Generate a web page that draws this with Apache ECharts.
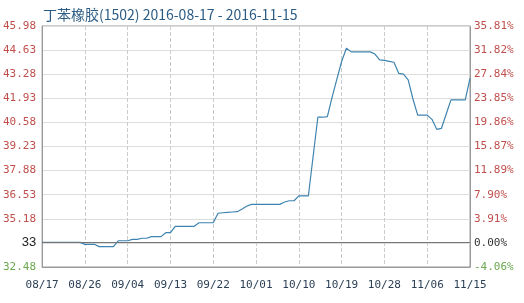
<!DOCTYPE html>
<html><head><meta charset="utf-8">
<script src="https://cdn.jsdelivr.net/npm/echarts@6/dist/echarts.min.js"></script>
<style>html,body{margin:0;padding:0;background:#fff}#c{width:524px;height:303px}</style>
</head><body><div id="c"></div>
<script>
var titleText = '丁苯橡胶(1502) 2016-08-17 - 2016-11-15';
var startDate = '2016-08-17';
var dayCount = 91;
var prices = [
  33.86,33.86,33.86,33.86,33.86,33.86,33.86,33.86,33.86,
  33.75,33.75,33.75,
  33.62,33.62,33.62,33.62,
  33.95,33.95,33.95,
  34.03,34.03,
  34.09,34.09,
  34.18,34.18,34.18,
  34.40,34.40,
  34.76,34.76,34.76,34.76,34.76,
  34.96,34.96,34.96,34.96,
  35.49,35.52,35.54,35.56,35.58,35.72,35.88,
  35.99,35.99,35.99,35.99,35.99,35.99,35.99,
  36.12,36.19,36.19,
  36.46,36.46,36.46,
  38.67,
  40.87,40.87,40.90,
  42.00,43.00,43.99,44.73,
  44.53,44.53,44.53,44.53,44.53,
  44.41,44.08,44.05,44.00,
  43.95,43.33,43.28,
  42.96,41.89,
  40.99,40.99,40.99,
  40.75,40.19,40.25,
  41.05,
  41.84,41.84,41.84,41.84,
  43.05
];
var leftLabels = ['32.48','33','35.18','36.53','37.88','39.23','40.58','41.93','43.28','44.63','45.98'];
var rightLabels = ['-4.06%','0.00%','3.91%','7.90%','11.89%','15.87%','19.86%','23.85%','27.84%','31.82%','35.81%'];
var axisMin = 32.48, axisMax = 45.98, axisStep = 1.35;

var categories = [];
(function(){
  var d0 = new Date(startDate + 'T00:00:00Z');
  for (var i = 0; i < dayCount; i++) {
    var d = new Date(d0.getTime() + i * 86400000);
    var m = d.getUTCMonth() + 1, dd = d.getUTCDate();
    categories.push((m < 10 ? '0' : '') + m + '/' + (dd < 10 ? '0' : '') + dd);
  }
})();
var base = prices[0];
function idx(v){ return Math.round((v - axisMin) / axisStep); }
var mono = '"DejaVu Sans Mono", "Liberation Mono", monospace';

var chart = echarts.init(document.getElementById('c'), null, {renderer:'canvas'});
chart.setOption({
  animation: false,
  title: {
    text: titleText, left: 38, top: 3,
    textStyle: {color:'#2c5c84', fontSize:14, fontWeight:'normal', fontFamily:'"Noto Sans CJK SC", "Noto Sans", sans-serif'}
  },
  grid: {left:40, right:54, top:26, bottom:36, show:true, borderColor:'#999', borderWidth:1},
  xAxis: {
    type:'category', data:categories, boundaryGap:false,
    axisLine:{lineStyle:{color:'#999'}},
    axisTick:{show:false},
    axisLabel:{interval:8, color:'#2b3f55', fontSize:11, fontFamily:mono, margin:13},
    splitLine:{show:true, interval:8, lineStyle:{color:'#ccc', type:'dashed'}}
  },
  yAxis: [{
    type:'value', min:axisMin, max:axisMax, interval:axisStep, position:'left',
    axisLine:{show:true, lineStyle:{color:'#999'}},
    axisTick:{show:false},
    splitLine:{show:true, lineStyle:{color:'#ddd'}},
    axisLabel:{
      margin:6, fontSize:11, fontFamily:mono,
      formatter:function(v){ var i = idx(v); var t = leftLabels[i];
        if (i === 1) return '{b|' + t + '}';
        return (i === 0 ? '{g|' : '{r|') + t + '}'; },
      rich:{
        r:{color:'#c0504d', fontSize:11, fontFamily:mono},
        g:{color:'#6aa84f', fontSize:11, fontFamily:mono},
        b:{color:'#222', fontSize:13, fontFamily:'"Liberation Sans", Arial, sans-serif'}
      }
    }
  },{
    type:'value', min:axisMin, max:axisMax, interval:axisStep, position:'right',
    axisLine:{show:true, lineStyle:{color:'#999'}},
    axisTick:{show:false},
    splitLine:{show:false},
    axisLabel:{
      margin:4, fontSize:11, fontFamily:mono,
      formatter:function(v){ var i = idx(v); var t = rightLabels[i];
        return (i === 0 ? '{g|' : (i === 1 ? '{k|' : '{r|')) + t + '}'; },
      rich:{
        r:{color:'#c0504d', fontSize:11, fontFamily:mono},
        g:{color:'#6aa84f', fontSize:11, fontFamily:mono},
        k:{color:'#333', fontSize:11, fontFamily:mono}
      }
    }
  }],
  series: [{
    type:'line', data:prices, yAxisIndex:0, showSymbol:false, symbol:'none',
    lineStyle:{color:'#3f84b0', width:1.2},
    markLine:{silent:true, symbol:'none', label:{show:false},
      lineStyle:{color:'#777', type:'solid', width:1},
      data:[{yAxis:base}]}
  }]
});
</script></body></html>
